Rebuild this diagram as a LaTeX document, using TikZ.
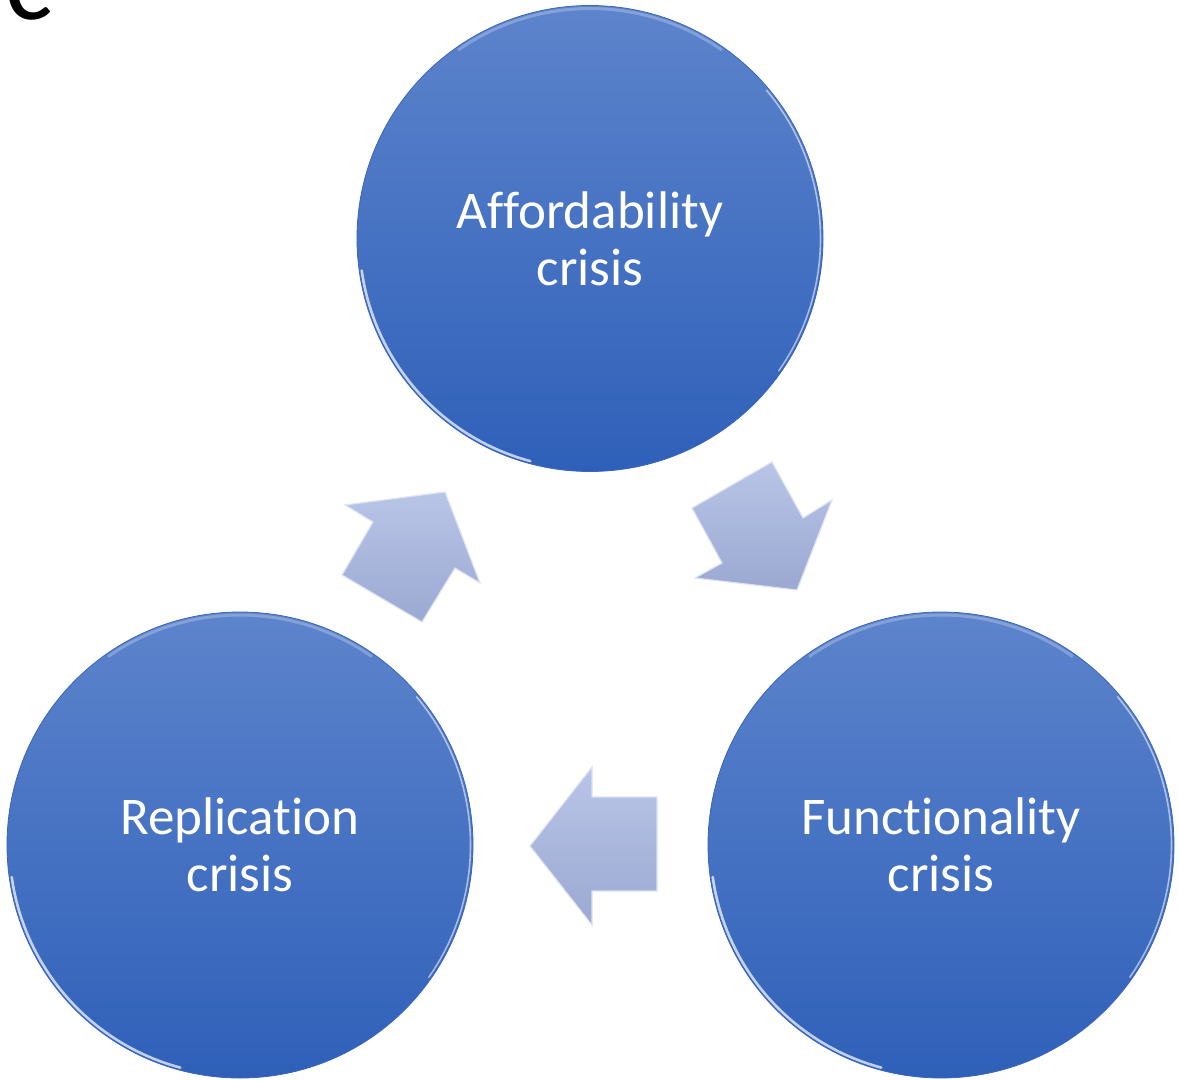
\documentclass[tikz,border=0pt]{standalone}
\usepackage{fontspec}
\setmainfont{Carlito}[Ligatures=NoCommon]
\definecolor{ctop}{HTML}{5D84CC}
\definecolor{cbot}{HTML}{2F60B9}
\definecolor{crim}{HTML}{3A66BC}
\definecolor{atop}{HTML}{B9C5E7}
\definecolor{abot}{HTML}{9BA8D1}
\definecolor{aedge}{HTML}{DCE3F5}
\tikzset{
  bubble/.style={circle, minimum size=466pt, inner sep=0pt, top color=ctop, bottom color=cbot,
    draw=crim, line width=0.8pt, text=white, align=center,
    font=\fontsize{53}{57}\selectfont},
  shine/.style={white, opacity=0.7, line width=2.6pt, line cap=round},
  blockarrow/.style={top color=atop, bottom color=abot, draw=aedge, line width=1.2pt, line join=miter}
}
\begin{document}
\begin{tikzpicture}[x=1pt,y=-1pt]
\useasboundingbox (0,0) rectangle (1179,1081);
\clip (0,0) rectangle (1179,1081);
% panel label
\node[anchor=base west, inner sep=0pt, font=\fontsize{112}{112}\selectfont] (lbl) at (5,20) {c};
% circles
\node[bubble] (aff) at (590,238.5) {Affordability\\crisis};
\node[bubble] (rep) at (240,845) {Replication\\crisis};
\node[bubble] (fun) at (941,845) {Functionality\\crisis};
% highlights
\foreach \n in {aff,rep,fun}{
  \draw[shine] (\n.center) ++(172:230.5) arc[start angle=172, end angle=105, radius=230.5];
  \draw[shine, line width=1.6pt, opacity=0.55] (\n.center) ++(-40:230.5) arc[start angle=-40, end angle=35, radius=230.5];
  \draw[white, opacity=0.25, line width=3pt] (\n.center) ++(-125:230) arc[start angle=-125, end angle=-55, radius=230];
}
% block arrows
\coordinate (u1) at (445,492);
\draw[blockarrow] (u1) -- (480,583) -- (455,568) -- (422,622) -- (342,575) -- (373,522) -- (345,505) -- cycle;
\coordinate (d1) at (797,590);
\draw[blockarrow] (d1) -- (695,578) -- (722,563) -- (692,508) -- (772,462) -- (803,518) -- (832,500) -- cycle;
\coordinate (l1) at (530,846);
\draw[blockarrow] (l1) -- (592,767) -- (592,797) -- (657,797) -- (657,891) -- (592,891) -- (592,925) -- cycle;
\end{tikzpicture}
\end{document}
